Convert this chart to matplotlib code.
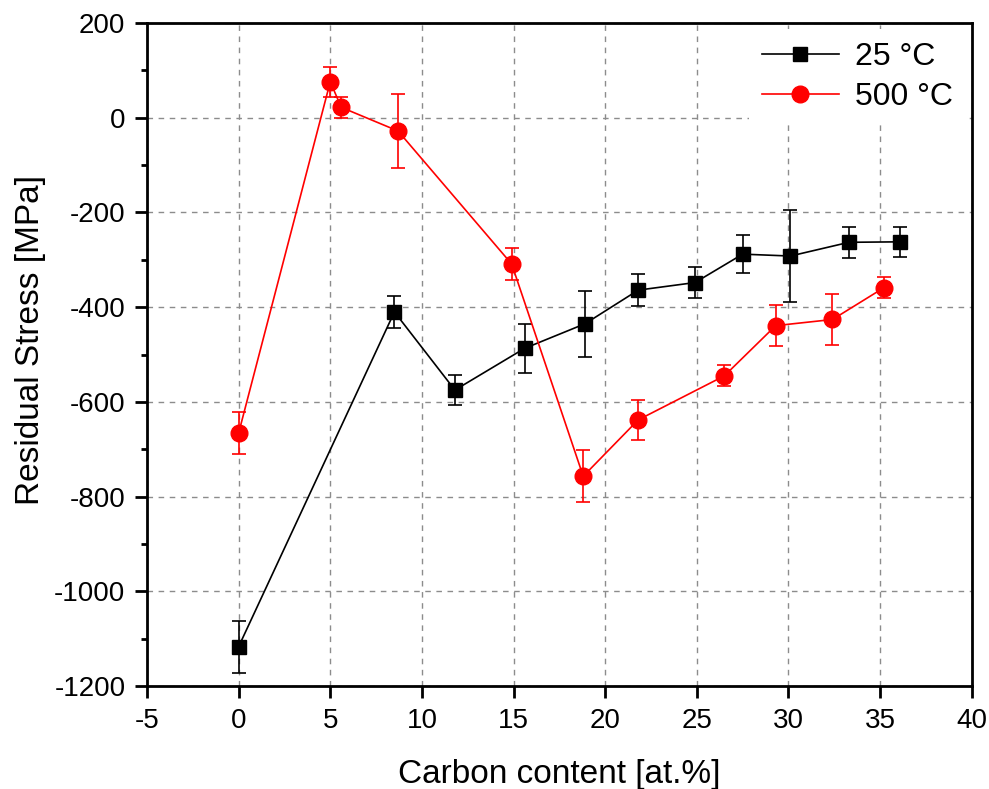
import numpy as np
import matplotlib.pyplot as plt
from matplotlib.ticker import MultipleLocator

plt.rcParams['font.family'] = ['Liberation Sans', 'DejaVu Sans']
plt.rcParams['axes.unicode_minus'] = False

# carbon content [at.%] and residual stress [MPa], deposited at 25 C
c25 = [0.0, 8.5, 11.8, 15.6, 18.9, 21.8, 24.9, 27.5, 30.1, 33.3, 36.1]
s25 = [-1117, -410, -575, -487, -435, -364, -348, -288, -292, -263, -262]
e25 = [55, 33, 32, 51, 70, 34, 33, 40, 98, 33, 32]

# same coatings deposited at 500 C
c500 = [0.0, 5.0, 5.6, 8.7, 14.9, 18.8, 21.8, 26.5, 29.3, 32.4, 35.2]
s500 = [-666, 76, 22, -28, -309, -757, -638, -545, -439, -426, -359]
e500 = [45, 32, 22, 78, 33, 55, 43, 22, 43, 54, 22]

fig = plt.figure(figsize=(9.89, 7.89), dpi=100)
ax = fig.add_axes([0.1486, 0.1305, 0.834, 0.8403])

ax.errorbar(c25, s25, yerr=e25, color='black', marker='s', markersize=10,
            lw=1.2, elinewidth=1.2, capsize=5, capthick=1.2, zorder=3)
ax.errorbar(c500, s500, yerr=e500, color='red', marker='o', markersize=12,
            lw=1.2, elinewidth=1.2, capsize=5, capthick=1.2, zorder=3)

# legend handles without the error bars
h25, = ax.plot([], [], color='black', marker='s', markersize=10, lw=1.2)
h500, = ax.plot([], [], color='red', marker='o', markersize=12, lw=1.2)

ax.set_xlim(-5, 40)
ax.set_ylim(-1200, 200)
ax.xaxis.set_major_locator(MultipleLocator(5))
ax.yaxis.set_major_locator(MultipleLocator(200))
ax.yaxis.set_minor_locator(MultipleLocator(100))
ax.grid(True, which='major', ls=(0, (4, 4)), color='#8c8c8c', lw=1)
ax.set_axisbelow(True)

ax.tick_params(which='major', direction='out', length=8.5, width=2, labelsize=20, pad=7)
ax.tick_params(which='minor', direction='out', length=4, width=2)
for sp in ax.spines.values():
    sp.set_linewidth(2)

ax.set_xlabel('Carbon content [at.%]', fontsize=24, labelpad=18)
ax.set_ylabel('Residual Stress [MPa]', fontsize=24)
ax.yaxis.set_label_coords(-0.122, 0.522)

ax.legend([h25, h500], ['25 °C', '500 °C'], loc='upper right', fontsize=23,
          frameon=True, fancybox=False, edgecolor='none', framealpha=1,
          handlelength=2.4, handletextpad=0.5, borderaxespad=0.2, labelspacing=0.3)

fig.savefig('out.png', dpi=100)
